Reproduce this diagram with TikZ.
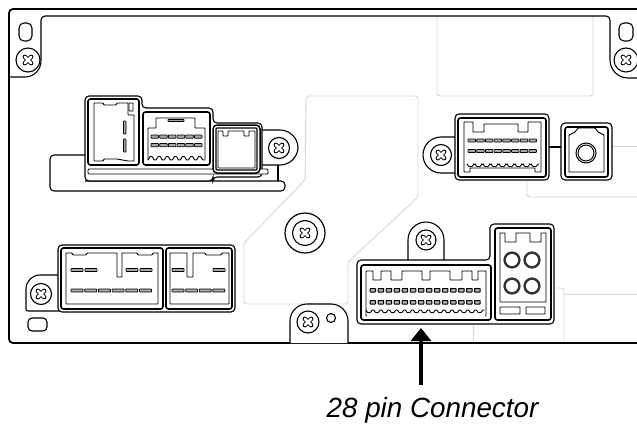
\documentclass[tikz,border=0pt]{standalone}
\usepackage{fontspec}
\setmainfont{Liberation Sans}
\usetikzlibrary{positioning,arrows.meta,calc}

\begin{document}
\begin{tikzpicture}[
    x=1pt,y=1pt,yscale=-1,
    heavy/.style={draw,line width=1.6pt,rounded corners=2.5pt,fill=white},
    frame/.style={draw,line width=1.1pt,rounded corners=4pt,fill=white},
    thin/.style={draw,line width=0.9pt,rounded corners=0.6pt},
    zone/.style={draw=black!16,line width=0.9pt,rounded corners=3pt},
    pinbar/.style={draw,line width=0.7pt,fill=black!35,rounded corners=0.5pt},
    socket/.style={draw=black!80,line width=2.4pt,fill=white},
    screw/.pic={
        \draw[line width=1.1pt] (0,0) circle[radius=#1];
        \draw[line width=4.4pt,line cap=round] (-3.2,-3.2) -- (3.2,3.2) (-3.2,3.2) -- (3.2,-3.2);
        \draw[line width=2.6pt,line cap=round,white] (-3.2,-3.2) -- (3.2,3.2) (-3.2,3.2) -- (3.2,-3.2);
    },
    screw/.default=10.5
]
\useasboundingbox (0,0) rectangle (637,426);

\draw[zone] (437,16) -- (437,96) -- (593,96) -- (593,16);
\draw[zone] (244,304) -- (244,243) -- (305,180) -- (306,96) -- (418,96) -- (418,197) -- (348,262) -- (348,304) -- cycle;
\draw[zone] (527,180) -- (527,197) -- (637,197);
\draw[zone] (612,146) -- (637,146);
\draw[zone] (553,288) -- (564,288) -- (564,343);
\draw[zone] (564,294) -- (637,294);
\draw[zone] (473,325) -- (473,343);

\draw[line width=1.8pt,rounded corners=4pt] (637,9) -- (9,9) -- (9,343) -- (637,343);
\draw[line width=1.1pt] (9,77) [rounded corners=16pt] -- (41,77) [rounded corners=4pt] -- (41,16) -- (610,16) [rounded corners=18pt] -- (610,78) -- (637,78);
\draw[line width=1.1pt,rounded corners=17pt,fill=white] (290,343) -- (290,304) -- (348,304) [rounded corners=0pt] -- (348,343);

\draw[frame,rounded corners=5pt] (19,23) rectangle (32,41);
\draw[frame,rounded corners=5pt] (619,23) rectangle (633,41);
\draw[frame,rounded corners=4pt] (28,318) rectangle (47,331);
\pic at (28,60) {screw=12};
\pic at (626,60) {screw=12};
\pic at (308,322) {screw=11};
\draw[line width=1.1pt] (331,318) circle[radius=4.5];
\draw[line width=1.2pt] (305,233) circle[radius=20];
\pic at (305,233) {screw=12.5};

% upper left block
\draw[frame] (85,155) -- (50,155) -- (50,191) -- (285,191) -- (285,181) -- (85,181);
\draw[line width=1.1pt] (278,163) -- (278,181);
\draw[frame,rounded corners=18pt] (262,130) -- (298,130) -- (298,165) -- (262,165);
\pic at (279,148) {screw=10.5};
\draw[frame] (85,181) -- (85,96) -- (142,96) -- (142,108) -- (213,108) -- (213,123) -- (262,123) -- (262,177) -- (213,177) -- (213,181) -- cycle;
\draw[frame,line width=0.9pt,rounded corners=1pt] (88,169) rectangle (268,174);
\draw[heavy] (88,99) rectangle (139,165);
\draw[thin] (94,103) -- (103,103) -- (104,105) -- (116,105) -- (117,103) -- (128,103) -- (128,115) -- (134,115) -- (134,161) -- (128,161) -- (117,159) -- (104,159) -- (103,161) -- (94,161) -- cycle;
\draw[thin] (129,103) rectangle (133,111);
\draw[pinbar] (123.5,121) rectangle (126,134);
\draw[pinbar] (123.5,139) rectangle (126,152);

\draw[heavy] (143,112) rectangle (210,165);
\draw[thin] (148,160) -- (148,128) -- (156,128) -- (156,118) -- (195,118) -- (195,128) -- (205,128) -- (205,160);
\draw[thin,fill=black!35] (168,119.5) rectangle (184,121.5);
\foreach \i in {0,...,5} {
    \draw[pinbar] ({151+8.7*\i},135) rectangle ++(7.5,3.2);
    \draw[pinbar] ({151+8.7*\i},143.5) rectangle ++(7.5,3.2);
}
\draw[thin] (148,160) \foreach \i in {0,...,6} {-- ++(2,-3.5) -- ++(2.2,0) -- ++(1.9,3.5) -- ++(2,0)};

\draw[frame,line width=1.5pt] (213,125) rectangle (260,173);
\draw[thin,rounded corners=1pt,line width=1.1pt] (216,128) rectangle (257,170);
\draw[thin] (218,131) -- (223,131) -- (223,136) -- (228,136) -- (228,131) -- (244,131) -- (244,136) -- (249,136) -- (249,131) -- (255,131) -- (255,168) -- (218,168) -- cycle;

% upper right block
\draw[frame,rounded corners=18pt] (458,137) -- (423,137) -- (423,173) -- (458,173);
\pic at (441,155) {screw=10.5};
\draw[line width=1.1pt] (549,147) -- (561,147);
\draw[frame] (455,114) rectangle (549,180);
\draw[heavy] (458,118) rectangle (546,177);
\draw[thin] (464,172) -- (464,122) -- (473,122) -- (473,132) -- (484,132) -- (484,124) -- (518,124) -- (518,132) -- (528,132) -- (528,122) -- (541,122) -- (541,172) -- (535,172) -- (535,168) -- (470,168) -- (470,172) -- cycle;
\foreach \i in {0,...,7} {
    \draw[pinbar] ({468+8.7*\i},139) rectangle ++(7.5,3);
    \draw[pinbar] ({468+8.7*\i},149.5) rectangle ++(7.5,3);
}
\draw[thin] (467,164) \foreach \i in {0,...,8} {-- ++(2,2.6) -- ++(3,0) -- ++(2,-2.6) -- ++(1,0)};

\draw[frame] (561,123) rectangle (612,180);
\draw[heavy] (565,127) rectangle (608,177);
\draw[thin] (569,172) -- (569,135) -- (575,132) -- (578,128) -- (595,128) -- (598,132) -- (604,135) -- (604,172) -- cycle;
\draw[line width=1pt] (586,153) circle[radius=10];
\draw[line width=1pt] (586,153) circle[radius=8];

% lower left block
\draw[frame,rounded corners=14pt] (60,275) -- (26,275) [rounded corners=2pt] -- (26,311) -- (60,311);
\pic at (41,294) {screw=10.5};
\draw[frame] (58,245) rectangle (235,312);
\draw[heavy] (61,248) rectangle (163,309);
\draw[heavy] (166,248) rectangle (232,309);
\draw[thin] (66,304) -- (66,253) -- (72,253) -- (73,255) -- (86,255) -- (87,253) -- (117,253) -- (117,277) -- (122,277) -- (122,253) -- (137,253) -- (138,255) -- (152,255) -- (153,253) -- (158,253) -- (158,304) -- cycle;
\draw[thin] (170,304) -- (170,253) -- (187,253) -- (187,277) -- (193,277) -- (193,253) -- (205,253) -- (206,255) -- (221,255) -- (222,253) -- (229,253) -- (229,304) -- cycle;
\foreach \x in {71,85,126,140,172,213} {
    \draw[pinbar] (\x,268.5) rectangle ++(12,3);
}
\foreach \i in {0,...,5} {
    \draw[pinbar] ({71+13.7*\i},289) rectangle ++(12,3);
}
\foreach \i in {0,...,3} {
    \draw[pinbar] ({172+13.6*\i},289) rectangle ++(12,3);
}

% connector with the arrow
\draw[frame,rounded corners=18pt] (408,262) -- (408,222) -- (444,222) -- (444,262);
\pic at (426,240) {screw=10};
\draw[frame] (357,260) -- (490,260) -- (490,224) -- (554,224) -- (554,324) -- (357,324) -- cycle;
\draw[heavy] (361,265) rectangle (491,320);
\draw[thin] (366,316) -- (366,271) -- (373,271) -- (373,280) -- (381,280) -- (381,271) -- (391,271) -- (391,280) -- (402,280) -- (402,271) -- (422,271) -- (422,280) -- (430,280) -- (430,271) -- (450,271) -- (450,280) -- (462,280) -- (462,271) -- (472,271) -- (472,280) -- (478,280) -- (478,271) -- (486,271) -- (486,316) -- cycle;
\foreach \i in {0,...,13} {
    \draw[pinbar,fill=black!30,line width=1pt] ({370+8.05*\i},288.5) rectangle ++(5.5,3.5);
    \draw[pinbar,fill=black!30,line width=1pt] ({370+8.05*\i},300.5) rectangle ++(5.5,3.5);
}
\draw[thin,white,line width=2pt] (367,316) -- (485,316);
\draw[thin] (366,310) \foreach \i in {0,...,14} {-- ++(1.5,2.6) -- ++(3,0) -- ++(1.5,-2.6) -- ++(1.9,0)};
\draw[heavy] (495,228) rectangle (551,320);
\draw[thin] (500,302) -- (500,233) -- (505,233) -- (505,242) -- (516,242) -- (516,233) -- (530,233) -- (530,242) -- (541,242) -- (541,233) -- (546,233) -- (546,302) -- cycle;
\foreach \x/\y in {512/260,532/260,512/286,532/286} {
    \draw[socket] (\x,\y) circle[radius=7.4];
}
\draw[thin] (500,307) rectangle (520,314);
\draw[thin] (526,307) rectangle (545,314);

\coordinate (tip) at (421,328);
\node[font=\itshape,scale=2.78,inner sep=0pt] (label) at (432.5,410) {28 pin Connector};
\coordinate (tail) at (421,385);
\draw[-{Triangle[length=13pt,width=20pt]},line width=3.4pt] (tail) -- (tip);

\end{tikzpicture}
\end{document}
